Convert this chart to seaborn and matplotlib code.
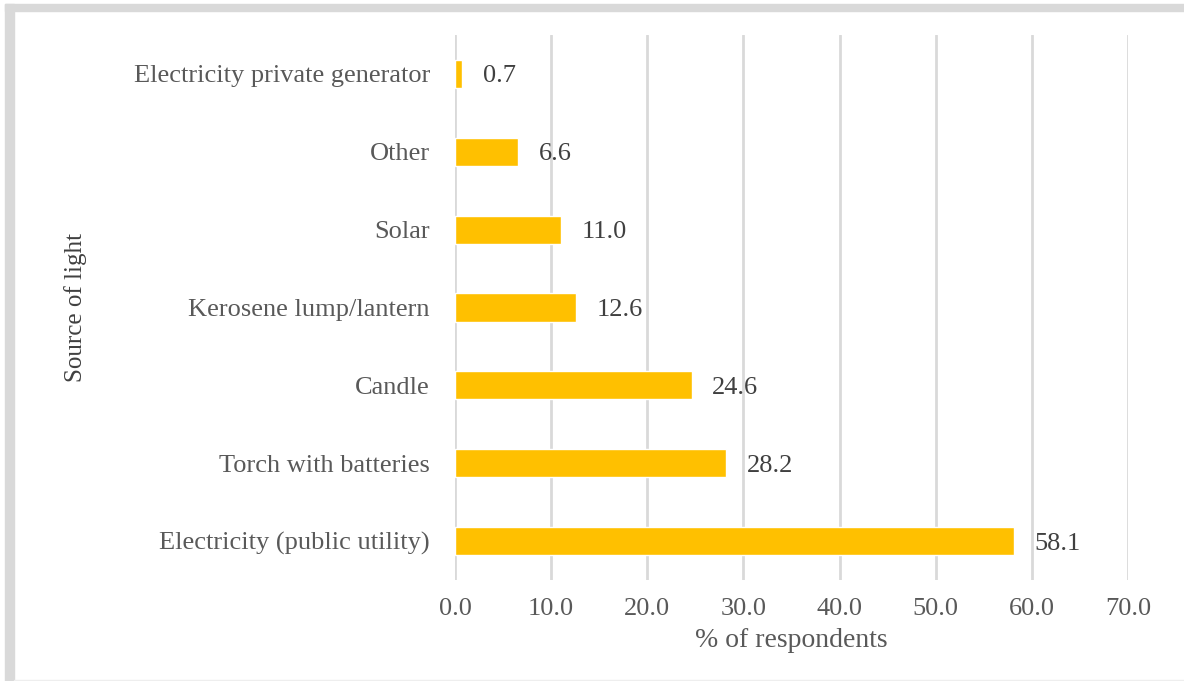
import matplotlib
matplotlib.use("Agg")
import matplotlib.pyplot as plt
import seaborn as sns
import pandas as pd
from matplotlib.patches import Rectangle

# ── Data ──
sources = ["Electricity private generator", "Other", "Solar",
           "Kerosene lump/lantern", "Candle", "Torch with batteries",
           "Electricity (public utility)"]
percent = [0.7, 6.6, 11.0, 12.6, 24.6, 28.2, 58.1]
x_ticks = [0, 10, 20, 30, 40, 50, 60, 70]

df = pd.DataFrame({"source": sources, "percent": percent})

# ── Style ──
sns.set_style("white")
plt.rcParams["font.family"] = ["Liberation Serif", "DejaVu Serif"]
TXT = "#595959"

fig = plt.figure(figsize=(11.84, 6.81), dpi=100)
ax = fig.add_axes([455 / 1184, 1 - 580 / 681, (1128 - 455) / 1184, (580 - 35) / 681])

sns.barplot(data=df, x="percent", y="source", orient="h", color="#FFC000",
            width=0.36, saturation=1, ax=ax, zorder=3)

labels = ax.bar_label(ax.containers[0], fmt="%.1f", padding=15, fontsize=19, color="#404040")
for t in labels:
    t.set_va("center_baseline")

ax.set_xlim(0, 70)
ax.set_xticks(x_ticks)
ax.set_xticklabels([f"{t:.1f}" for t in x_ticks])
ax.xaxis.grid(True, color="#d9d9d9", linewidth=2, zorder=0)
ax.set_axisbelow(True)
for s in ax.spines.values():
    s.set_visible(False)
ax.tick_params(axis="both", length=0, labelsize=19, labelcolor=TXT)
ax.tick_params(axis="x", pad=13)
ax.tick_params(axis="y", pad=18)

ax.set_xlabel("% of respondents", fontsize=20, color=TXT, labelpad=6)
ax.set_ylabel("Source of light", fontsize=18, color="#404040")
ax.yaxis.set_label_coords(-368 / 673, 0.5)

# ── Frame ──
fig.patches.append(Rectangle((5 / 1184, 0), 9 / 1184, 1 - 4 / 681,
                             transform=fig.transFigure, color="#d9d9d9", zorder=0))
fig.patches.append(Rectangle((5 / 1184, 1 - 11 / 681), 1, 7 / 681,
                             transform=fig.transFigure, color="#d9d9d9", zorder=0))
fig.patches.append(Rectangle((14 / 1184, 0), 1, 1.5 / 681,
                             transform=fig.transFigure, color="#eeeeee", zorder=0))

fig.savefig("out.png", dpi=100)
